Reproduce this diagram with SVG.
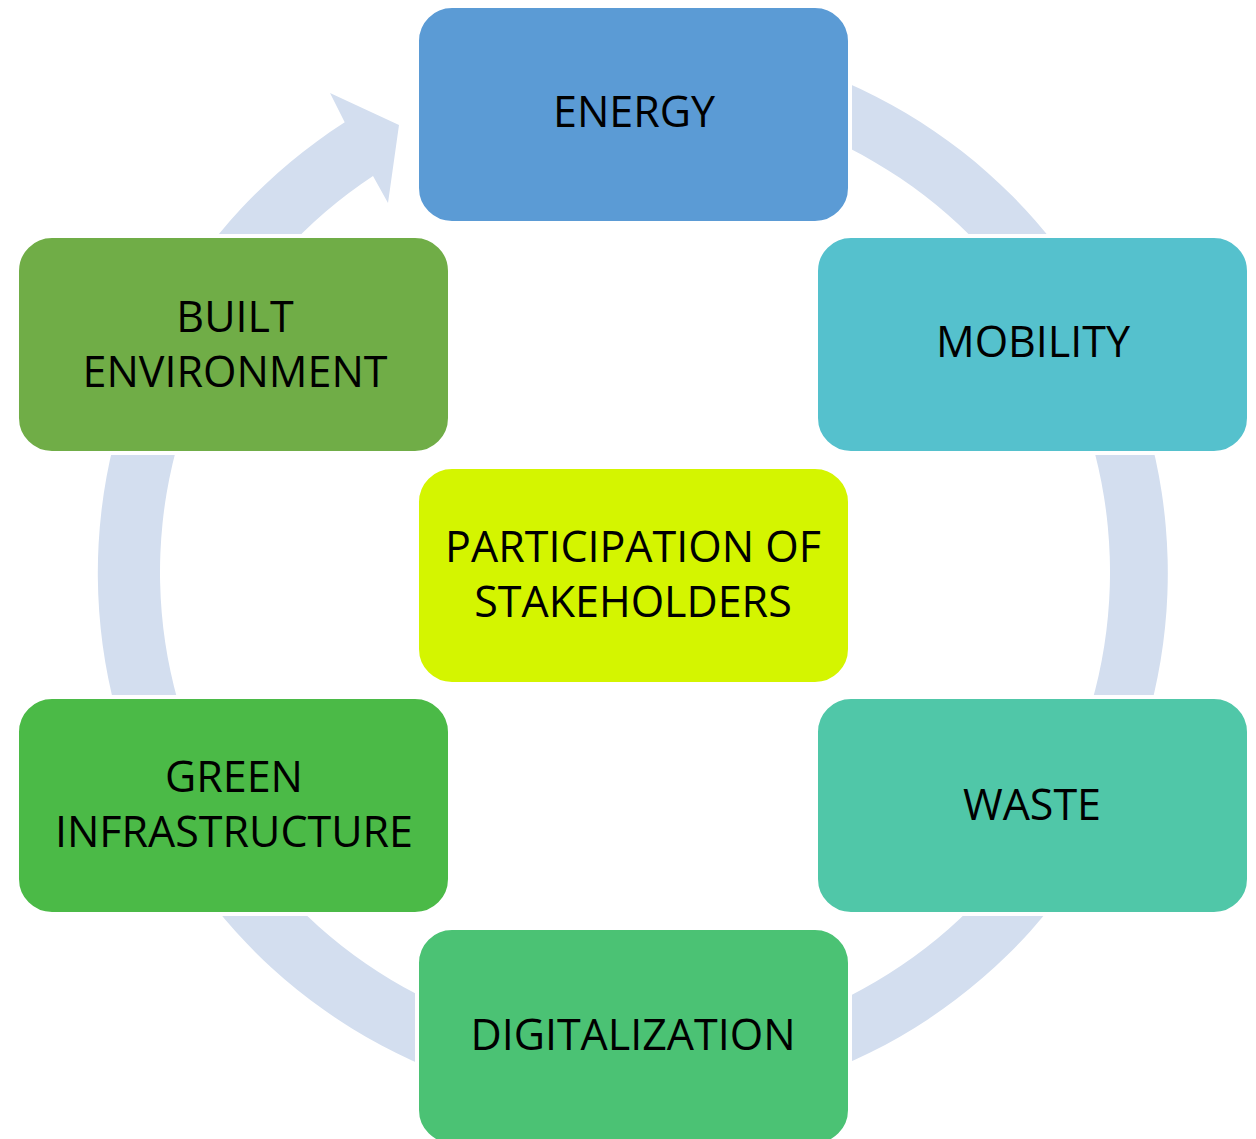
<svg xmlns="http://www.w3.org/2000/svg" width="1256" height="1139" viewBox="0 0 1256 1139">
  <style>
    .box { stroke: #ffffff; stroke-width: 4; }
    .lbl { font-family: "Open Sans", "Noto Sans", "Liberation Sans", sans-serif; font-size: 43px; fill: #000000; text-anchor: middle; }
    .ring { fill: #D3DEEF; fill-rule: evenodd; }
  </style>
  <rect width="1256" height="1139" fill="#ffffff"/>
  <g id="connectors">
    <path class="ring" d="M 450.0 70.3 A 535 535 0 1 1 344.7 122.3 L 330 93 L 399 125 L 388 203 L 373 176 A 475 475 0 1 0 470.5 126.6 Z"/>
  </g>
  <g id="node-energy">
    <rect class="box" x="417" y="6" width="433" height="217" rx="35" fill="#5B9BD5"/>
    <text class="lbl" x="634" y="127">ENERGY</text>
  </g>
  <g id="node-mobility">
    <rect class="box" x="816" y="236" width="433" height="217" rx="35" fill="#55C1CD"/>
    <text class="lbl" x="1033" y="357">MOBILITY</text>
  </g>
  <g id="node-waste">
    <rect class="box" x="816" y="697" width="433" height="217" rx="35" fill="#50C7A8"/>
    <text class="lbl" x="1032" y="820">WASTE</text>
  </g>
  <g id="node-digitalization">
    <rect class="box" x="417" y="928" width="433" height="217" rx="35" fill="#4BC274"/>
    <text class="lbl" x="633" y="1050">DIGITALIZATION</text>
  </g>
  <g id="node-green-infrastructure">
    <rect class="box" x="17" y="697" width="433" height="217" rx="35" fill="#4BBA47"/>
    <text class="lbl" x="234" y="792">GREEN</text>
    <text class="lbl" x="234" y="847">INFRASTRUCTURE</text>
  </g>
  <g id="node-built-environment">
    <rect class="box" x="17" y="236" width="433" height="217" rx="35" fill="#70AD47"/>
    <text class="lbl" x="235" y="332">BUILT</text>
    <text class="lbl" x="235" y="387">ENVIRONMENT</text>
  </g>
  <g id="node-participation">
    <rect class="box" x="417" y="467" width="433" height="217" rx="35" fill="#D4F500"/>
    <text class="lbl" x="633" y="562">PARTICIPATION OF</text>
    <text class="lbl" x="633" y="617">STAKEHOLDERS</text>
  </g>
</svg>
